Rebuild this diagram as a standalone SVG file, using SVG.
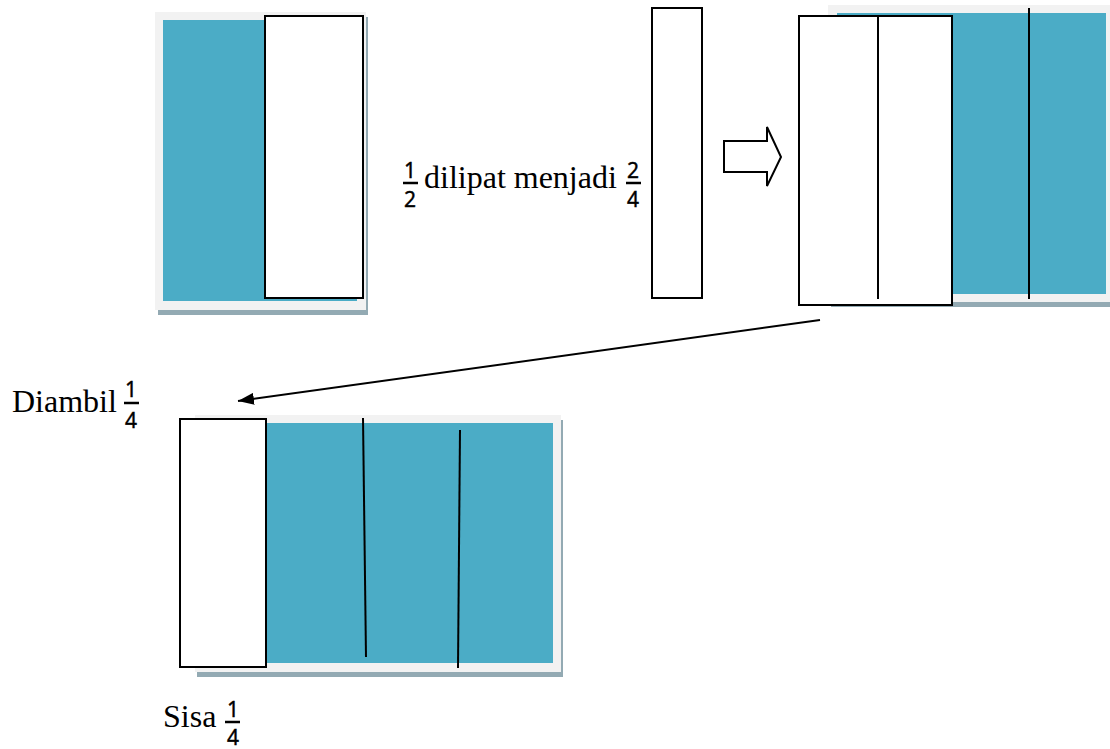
<svg xmlns="http://www.w3.org/2000/svg" width="1110" height="749" viewBox="0 0 1110 749">
  <style>
    .frame { fill: #f2f2f2; }
    .shadow { fill: #93aab3; }
    .sheet { fill: #4bacc6; }
    .flap { fill: #ffffff; stroke: #000000; stroke-width: 2; }
    .fold { stroke: #000000; stroke-width: 2; fill: none; }
    .lbl { font-family: "Liberation Serif", "Times New Roman", serif; font-size: 32px; fill: #000000; }
    .num { font-family: "Noto Sans", "DejaVu Sans", sans-serif; font-size: 21px; fill: #000000; text-anchor: middle; stroke: #000000; stroke-width: 0.4; }
    .bar { stroke: #000000; stroke-width: 2.5; }
  </style>
  <defs>
    <marker id="head" markerWidth="16" markerHeight="12" refX="16" refY="6" orient="auto" markerUnits="userSpaceOnUse">
      <path d="M0,0 L16,6 L0,12 Z" fill="#000000"/>
    </marker>
  </defs>

  <rect width="1110" height="749" fill="#ffffff"/>

  <!-- paper with half folded over -->
  <g id="paper-half">
    <rect class="shadow" x="158" y="17" width="210" height="298"/>
    <rect class="frame" x="155" y="12" width="211" height="298"/>
    <rect class="sheet" x="163" y="20" width="194" height="281"/>
    <rect class="flap" x="265" y="16" width="98" height="282"/>
  </g>

  <!-- folded strip -->
  <g id="strip">
    <rect class="flap" x="652" y="8" width="50" height="290"/>
  </g>

  <!-- block arrow -->
  <g id="block-arrow">
    <path d="M724,141 L767,141 L767,127 L781,157 L767,186 L767,172 L724,172 Z" fill="#ffffff" stroke="#000000" stroke-width="2"/>
  </g>

  <!-- paper showing two quarters -->
  <g id="paper-quarters">
    <rect class="shadow" x="831" y="10" width="279" height="297"/>
    <rect class="frame" x="828" y="5" width="282" height="297"/>
    <rect class="sheet" x="837" y="13" width="269" height="281"/>
    <rect class="flap" x="799" y="16" width="153" height="289"/>
    <line class="fold" x1="878" y1="16" x2="878" y2="299"/>
    <line class="fold" x1="1029" y1="8" x2="1029" y2="299"/>
  </g>

  <!-- paper with one quarter taken -->
  <g id="paper-remaining">
    <rect class="shadow" x="197" y="420" width="366" height="257"/>
    <rect class="frame" x="195" y="415" width="366" height="257"/>
    <rect class="sheet" x="200" y="423" width="353" height="240"/>
    <rect class="flap" x="180" y="419" width="86" height="248"/>
    <line class="fold" x1="363" y1="418" x2="366" y2="657"/>
    <line class="fold" x1="460" y1="430" x2="458" y2="668"/>
  </g>

  <!-- connectors -->
  <g id="connectors">
    <line x1="820" y1="320" x2="238" y2="401" stroke="#000000" stroke-width="2" marker-end="url(#head)"/>
  </g>

  <!-- labels -->
  <g id="label-fold">
    <text class="num" x="410" y="178">1</text>
    <line class="bar" x1="403" y1="183" x2="418" y2="183"/>
    <text class="num" x="410" y="207">2</text>
    <text class="lbl" x="424" y="188">dilipat menjadi</text>
    <text class="num" x="633" y="178">2</text>
    <line class="bar" x1="626" y1="183" x2="641" y2="183"/>
    <text class="num" x="633" y="207">4</text>
  </g>

  <g id="label-taken">
    <text class="lbl" x="12" y="412">Diambil</text>
    <text class="num" x="131" y="397">1</text>
    <line class="bar" x1="124" y1="403" x2="139" y2="403"/>
    <text class="num" x="131" y="428">4</text>
  </g>

  <g id="label-rest">
    <text class="lbl" x="163" y="727">Sisa</text>
    <text class="num" x="233" y="717">1</text>
    <line class="bar" x1="225" y1="722" x2="240" y2="722"/>
    <text class="num" x="233" y="745">4</text>
  </g>
</svg>
